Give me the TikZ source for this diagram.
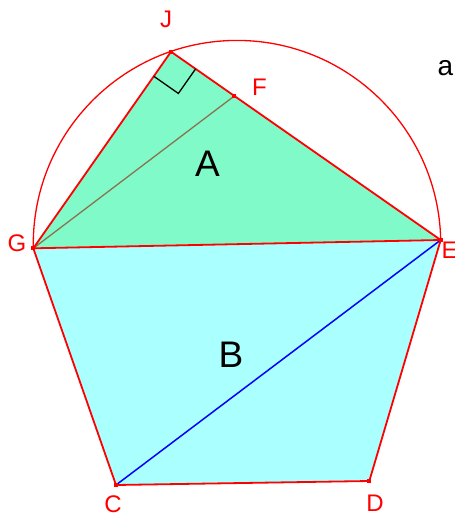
\documentclass[tikz,border=0pt]{standalone}
\usepackage{fontspec}
\setmainfont{Liberation Sans}
\usetikzlibrary{calc}
\definecolor{areaA}{RGB}{128,250,200}
\definecolor{areaB}{RGB}{170,255,255}
\definecolor{olive}{RGB}{140,115,80}
\tikzset{
  edge/.style={draw=red, line width=1.8pt, line join=round},
  vert/.style={fill=red, inner sep=0pt, minimum size=4pt},
  ptlabel/.style={text=red, inner sep=0pt, font=\fontsize{24}{24}\selectfont},
  arealabel/.style={text=black, inner sep=0pt, font=\fontsize{37}{37}\selectfont}
}
\begin{document}
\begin{tikzpicture}[x=1pt,y=1pt]
\useasboundingbox (0,0) rectangle (455,-514);
\coordinate (J) at (171,-51.7);
\coordinate (G) at (33.3,-248.3);
\coordinate (E) at (440.7,-240);
\coordinate (C) at (116,-485);
\coordinate (D) at (369.3,-481);
\coordinate (F) at ($(J)!0.235!(E)$);
% fills
\fill[areaA] (J) -- (G) -- (E) -- cycle;
\fill[areaB] (G) -- (C) -- (D) -- (E) -- cycle;
% circle arc
\draw[red, line width=1.3pt] (E) arc[start angle=1.17, end angle=181.17, radius=203.74];
% inner lines
\draw[olive, line width=1.3pt] (G) -- (F);
\draw[blue, line width=1.5pt] (C) -- (E);
% edges
\draw[edge] (G) -- (J) -- (E);
\draw[edge] (G) -- (E);
\draw[edge] (G) -- (C) -- (D) -- (E);
% right angle mark
\draw[black, line width=1.3pt] ($(J)!30pt!(G)$) -- ($(J)!30pt!(G) + (J)!30pt!(E) - (J)$) -- ($(J)!30pt!(E)$);
% vertices
\foreach \p in {J,F,G,E,C,D} \node[vert] (v\p) at (\p) {};
% labels
\node[ptlabel] (lJ) at (166,-19.7) {J};
\node[ptlabel] (lF) at (259.5,-87.5) {F};
\node[ptlabel] (lG) at (17,-243.5) {G};
\node[ptlabel] (lE) at (449.5,-250) {E};
\node[ptlabel] (lC) at (113,-504.5) {C};
\node[ptlabel] (lD) at (375,-503) {D};
\node[arealabel] (lA) at (207.5,-163.5) {A};
\node[arealabel] (lB) at (231,-355) {B};
\node[inner sep=0pt, font=\fontsize{28}{28}\selectfont] (la) at (445.5,-68.3) {a};
\end{tikzpicture}
\end{document}
